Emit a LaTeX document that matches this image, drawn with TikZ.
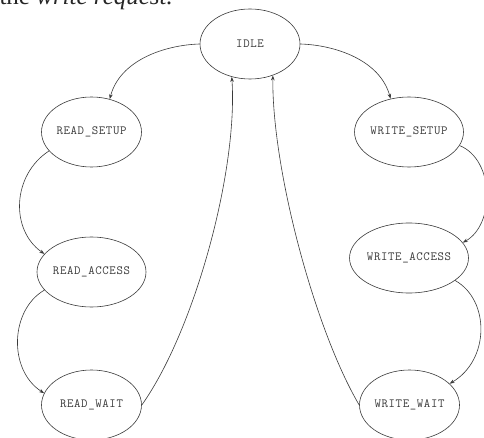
\documentclass[tikz,border=0pt]{standalone}
\usepackage{fontspec}
\setmainfont{Liberation Serif}
\newfontfamily\statefont{Latin Modern Mono}[LetterSpace=5]
\usetikzlibrary{shapes.geometric,arrows.meta}
\definecolor{ink}{HTML}{3A3A3A}
\tikzset{
  state/.style={ellipse, draw=ink, line width=0.6pt, minimum width=100pt, minimum height=70pt, inner sep=0pt, font=\statefont\fontsize{12.5pt}{12.5pt}\selectfont, text=ink},
  trans/.style={draw=ink, line width=0.6pt, -{Stealth[length=5pt,width=3.6pt]}}
}
\begin{document}
\begin{tikzpicture}[x=1pt,y=-1pt]
\useasboundingbox (0,0) rectangle (484,438);
\node[anchor=base west, font=\fontsize{25pt}{25pt}\selectfont, text=black!85] (cap) at (-4,5) {the \textit{write request.}};
\node[state] (idle) at (250,44) {IDLE};
\node[state] (rs) at (91.5,132) {READ\_SETUP};
\node[state] (ra) at (91.5,272) {READ\_ACCESS};
\node[state] (rw) at (91.5,405) {READ\_WAIT};
\node[state] (ws) at (409,132) {WRITE\_SETUP};
\node[state] (wa) at (409,258) {WRITE\_ACCESS};
\node[state] (ww) at (409.5,405) {WRITE\_WAIT};
\draw[trans] (idle.west) .. controls (165,45) and (120,60) .. (rs.61);
\draw[trans] (idle.east) .. controls (335,45) and (380,60) .. (ws.119);
\draw[trans] (rs.204) .. controls (12,175) and (10,230) .. (ra.159);
\draw[trans] (ra.201) .. controls (10,310) and (8,370) .. (rw.166);
\draw[trans] (rw.east) .. controls (195,330) and (238,170) .. (idle.241);
\draw[trans] (ww.west) .. controls (315,330) and (272,170) .. (idle.306);
\draw[trans] (ws.345) .. controls (495,160) and (495,225) .. (wa.16);
\draw[trans] (wa.334) .. controls (490,300) and (490,360) .. (ww.28);
\end{tikzpicture}
\end{document}
